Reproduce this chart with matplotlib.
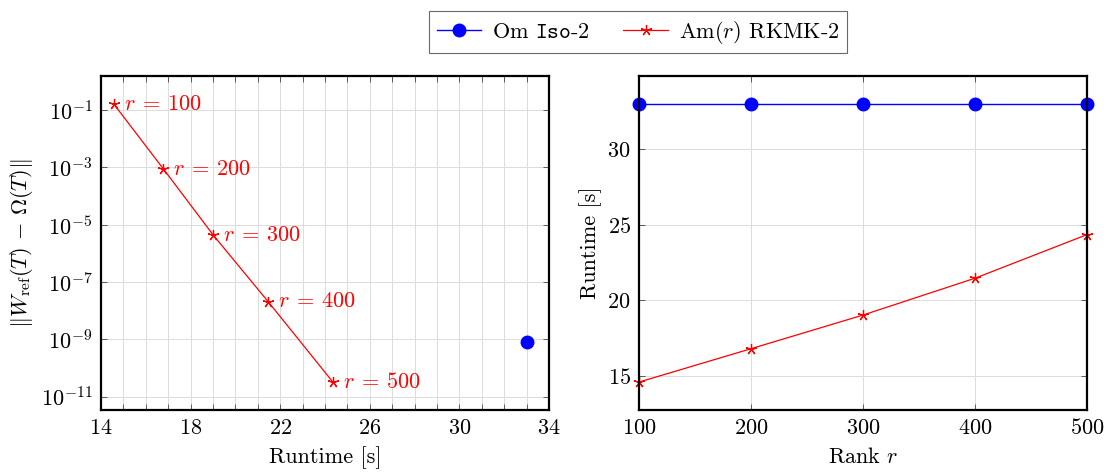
import matplotlib
matplotlib.use("Agg")
import matplotlib.pyplot as plt
from matplotlib.ticker import FixedLocator, MultipleLocator, NullLocator

# ---- data ----
ranks = [100, 200, 300, 400, 500]
runtime_am = [14.58, 16.79, 19.02, 21.46, 24.35]
error_am = [1.6e-1, 8.8e-4, 4.3e-6, 2.1e-8, 3.3e-11]
runtime_om = [33.03, 33.03, 33.03, 33.03, 33.03]
error_om = [8.1e-10]
runtime_om_single = [33.03]
annot_labels = [r"$r\:=\:100$", r"$r\:=\:200$", r"$r\:=\:300$", r"$r\:=\:400$", r"$r\:=\:500$"]
log_ticks = [1e-1, 1e-3, 1e-5, 1e-7, 1e-9, 1e-11]
left_xticks = [14, 18, 22, 26, 30, 34]
right_yticks = [15, 20, 25, 30]

FS = 16
plt.rcParams["font.family"] = ["cmr10", "DejaVu Serif"]
plt.rcParams["mathtext.fontset"] = "cm"
plt.rcParams["axes.formatter.use_mathtext"] = True
plt.rcParams["axes.unicode_minus"] = False
plt.rcParams["font.size"] = FS

fig = plt.figure(figsize=(11.06, 4.72), dpi=100)
ax1 = fig.add_axes([0.0913, 0.1314, 0.405, 0.7076])
ax2 = fig.add_axes([0.5778, 0.1314, 0.405, 0.7076])

star = (5, 2, 0)
gridkw = dict(color="#dcdcdc", linewidth=0.7)

def style(ax):
    for s in ax.spines.values():
        s.set_linewidth(1.6)
    ax.tick_params(which="both", direction="in", top=True, right=True,
                   length=4, width=0.6, color="#444444", labelsize=FS, pad=6)
    ax.set_axisbelow(True)

# left
ax1.plot(runtime_am, error_am, color="red", lw=0.9, marker=star, ms=8, mew=0.9)
ax1.plot(runtime_om_single, error_om, color="blue", lw=0, marker="o", ms=9)
for x, y, t in zip(runtime_am, error_am, annot_labels):
    ax1.annotate(t, (x, y), xytext=(7, 0), textcoords="offset points",
                 color="red", va="center", ha="left", fontsize=FS)
ax1.set_yscale("log")
ax1.set_xlim(14, 34)
ax1.set_ylim(10 ** -11.46, 10 ** 0.19)
ax1.yaxis.set_major_locator(FixedLocator(log_ticks))
ax1.yaxis.set_minor_locator(NullLocator())
ax1.xaxis.set_major_locator(FixedLocator(left_xticks))
ax1.xaxis.set_minor_locator(MultipleLocator(1))
ax1.grid(True, which="both", **gridkw)
ax1.set_xlabel("Runtime [s]", fontsize=FS, labelpad=6)
ax1.set_ylabel(r"$\|W_{\mathrm{ref}}(T)\,-\,\Omega(T)\|$", fontsize=FS)
style(ax1)

# right
l1, = ax2.plot(ranks, runtime_om, color="blue", lw=1.0, marker="o", ms=9,
               label=r"Om $\mathtt{Iso}$-$\mathtt{2}$", clip_on=False)
l2, = ax2.plot(ranks, runtime_am, color="red", lw=0.9, marker=star, ms=8,
               mew=0.9, label=r"Am$(r)$ RKMK-2", clip_on=False)
ax2.set_xlim(100, 500)
ax2.set_ylim(12.73, 34.86)
ax2.xaxis.set_major_locator(FixedLocator(ranks))
ax2.yaxis.set_major_locator(FixedLocator(right_yticks))
ax2.grid(True, **gridkw)
ax2.set_xlabel("Rank $r$", fontsize=FS, labelpad=6)
ax2.set_ylabel("Runtime [s]", fontsize=FS)
style(ax2)

leg = fig.legend(handles=[l1, l2], loc="center", bbox_to_anchor=(0.577, 0.932),
                 ncol=2, frameon=True, fancybox=False, fontsize=FS,
                 handlelength=2.0, handletextpad=0.5, columnspacing=1.5,
                 borderpad=0.35)
leg.get_frame().set_edgecolor("#444444")
leg.get_frame().set_linewidth(0.8)

fig.savefig("out.png", dpi=100)
